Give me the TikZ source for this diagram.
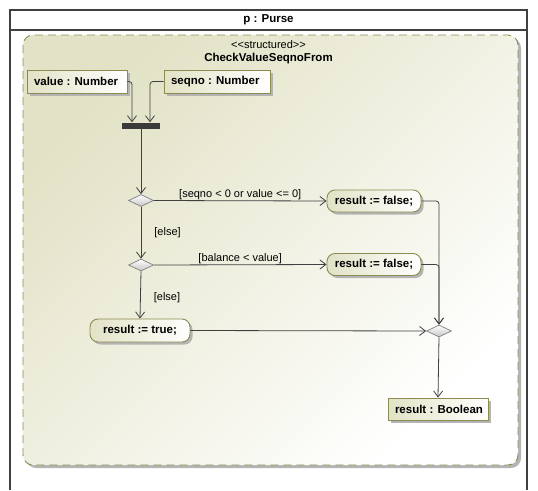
\documentclass[tikz,border=0pt]{standalone}
\usepackage{fontspec}
\setmainfont{Liberation Sans}[Ligatures=TeXOff]
\usetikzlibrary{arrows.meta,shapes.geometric,shadows,calc}
\definecolor{olv}{HTML}{8C8C50}
\definecolor{beig}{HTML}{E2E2C6}
\definecolor{ln}{HTML}{404040}
\definecolor{shd}{HTML}{B4B4B4}
\newcommand{\lb}[2]{\makebox[#1][l]{#2}}
\begin{document}
\begin{tikzpicture}[x=1pt,y=-1pt,
  font=\fontsize{11}{13}\selectfont,
  sh/.style={drop shadow={shadow xshift=2.5pt,shadow yshift=-2.5pt,fill=shd,opacity=1}},
  objnode/.style={draw=olv,line width=0.9pt,sh,left color=beig,right color=white,
    minimum height=23pt,inner xsep=7pt,font=\fontsize{11.5}{13}\selectfont\bfseries},
  actnode/.style={draw=olv,line width=0.9pt,sh,rounded corners=8pt,left color=beig,right color=white,
    minimum height=22pt,font=\fontsize{11.5}{13}\selectfont\bfseries},
  dec/.style={diamond,draw=gray,line width=0.7pt,top color=white,bottom color=gray!45,
    minimum width=25pt,minimum height=12pt,inner sep=0pt},
  arr/.style={draw=ln,line width=0.8pt,-{Straight Barb[length=6pt,width=9pt]}},
  lbl/.style={font=\fontsize{11}{13}\selectfont,inner sep=1pt}]
\useasboundingbox (0,0) rectangle (538,490);
% outer frame
\draw[ln,line width=1.1pt] (10,490) -- (10,10) -- (527,10) -- (527,490);
\draw[ln,line width=1.1pt] (10,30) -- (527,30);
\node[font=\fontsize{11.5}{13}\selectfont\bfseries] (title) at (268.5,19.5) {p : Purse};
% structured region
\fill[shd,rounded corners=10pt] (26,38) rectangle (521,468);
\shade[rounded corners=10pt,top color=beig,bottom color=white,shading angle=45] (23,35) rectangle (518,465);
\draw[olv,line width=0.9pt,dash pattern=on 8pt off 5pt,rounded corners=10pt] (23,35) rectangle (518,465);
\node[lbl] (st) at (268.5,44.5) {<<structured>>};
\node[lbl,font=\fontsize{11.5}{13}\selectfont\bfseries] (nm) at (268.5,59) {CheckValueSeqnoFrom};
% nodes
\node[objnode] (value) at (77,81.5) {\lb{86pt}{value : Number}};
\node[objnode] (seqno) at (217,81.5) {\lb{92pt}{seqno : Number}};
\node[fill=ln!90!black,minimum width=38pt,minimum height=6pt,inner sep=0pt] (bar) at (141,125.5) {};
\node[dec] (d1) at (141,200.5) {};
\node[dec] (d2) at (141,265) {};
\node[actnode,minimum width=94pt] (f1) at (374,201) {result := false;};
\node[actnode,minimum width=94pt] (f2) at (374,264.5) {result := false;};
\node[actnode,minimum width=100pt,minimum height=23pt] (t) at (140,330.5) {result := true;};
\node[dec] (m) at (439,331) {};
\node[objnode,minimum height=22pt] (rb) at (438,409) {\lb{86pt}{result : Boolean}};
% edges
\draw[arr,rounded corners=3pt] (value.east) -| ([xshift=-9pt]bar.north);
\draw[arr,rounded corners=3pt] (seqno.west) -| ([xshift=9pt]bar.north);
\draw[arr] (bar.south) -- (d1.north);
\draw[arr] (d1.east) -- node[lbl,above,pos=0.5] {[seqno < 0 or value <= 0]} (f1.west);
\draw[arr] (d1.south) -- node[lbl,right=12pt,pos=0.5] {[else]} (d2.north);
\draw[arr] (d2.east) -- node[lbl,above,pos=0.5] {[balance < value]} (f2.west);
\draw[arr] (d2.south) -- node[lbl,right=12pt,pos=0.55] {[else]} (t.north);
\draw[arr] (t.east) -- (m.west);
\draw[arr,rounded corners=3pt] (f1.east) -| (m.north);
\draw[arr,rounded corners=3pt] (f2.east) -| (m.north);
\draw[arr] (m.south) -- (rb.north);
\end{tikzpicture}
\end{document}
